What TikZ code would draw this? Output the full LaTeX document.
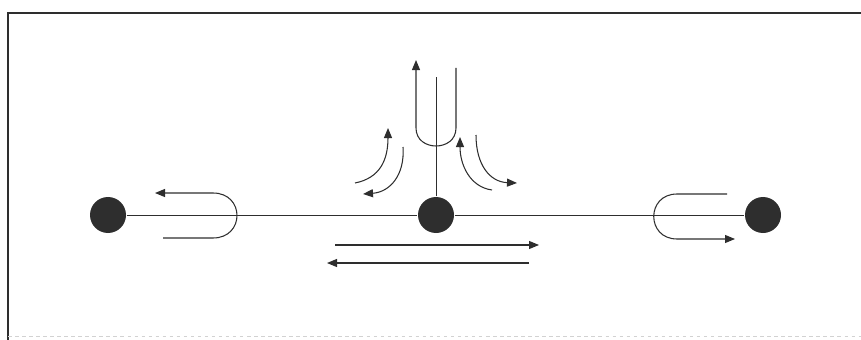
\documentclass[tikz,border=0pt]{standalone}
\usepackage{tikz}
\usetikzlibrary{arrows.meta}
\definecolor{ink}{HTML}{2E2E2E}

\begin{document}
\begin{tikzpicture}[x=0.03cm, y=-0.03cm, line width=0.9pt,
    ball/.style={circle, fill=ink, inner sep=0pt, minimum size=1.08cm},
    flow/.style={draw=ink, -{Triangle[length=0.3cm, width=0.24cm]}}]
        \useasboundingbox (0,0) rectangle (861,340);

        % Frame
        \draw[ink, line width=1.1pt] (861,13) -- (8,13) -- (8,340);
        \draw[gray!35, line width=0.5pt, dashed] (8,336) -- (861,336);

        % Balls and string
        \node[ball] (lball) at (108,215) {};
        \node[ball] (cball) at (436,215) {};
        \node[ball] (rball) at (763,215) {};
        \coordinate (stem) at (436,77);
        \draw[ink, line width=0.8pt] (lball) -- (cball);
        \draw[ink, line width=0.8pt] (cball) -- (rball);
        \draw[ink, line width=0.8pt] (cball) -- (stem);

        % Flow round the stem
        \draw[flow] (456,68) -- (456,128) .. controls (456,152) and (416,152) .. (416,128) -- (416,60);
        \draw[flow] (355,183) .. controls (380,178) and (388,160) .. (388,128);
        \draw[flow] (403,147) .. controls (405,175) and (390,192) .. (363,194);
        \draw[flow] (492,190) .. controls (470,187) and (460,165) .. (460,137);
        \draw[flow] (476,135) .. controls (476,165) and (490,182) .. (517,183);

        % Turning at the ends
        \draw[flow] (163,238) -- (213,238) .. controls (245,238) and (245,193) .. (213,193) -- (155,193);
        \draw[flow] (727,194) -- (677,194) .. controls (646,194) and (646,239) .. (677,239) -- (735,239);

        % Motion below
        \coordinate (ra) at (335,245);
        \coordinate (rb) at (539,245);
        \coordinate (la) at (529,263);
        \coordinate (lb) at (327,263);
        \draw[flow] (ra) -- (rb);
        \draw[flow] (la) -- (lb);
\end{tikzpicture}
\end{document}
